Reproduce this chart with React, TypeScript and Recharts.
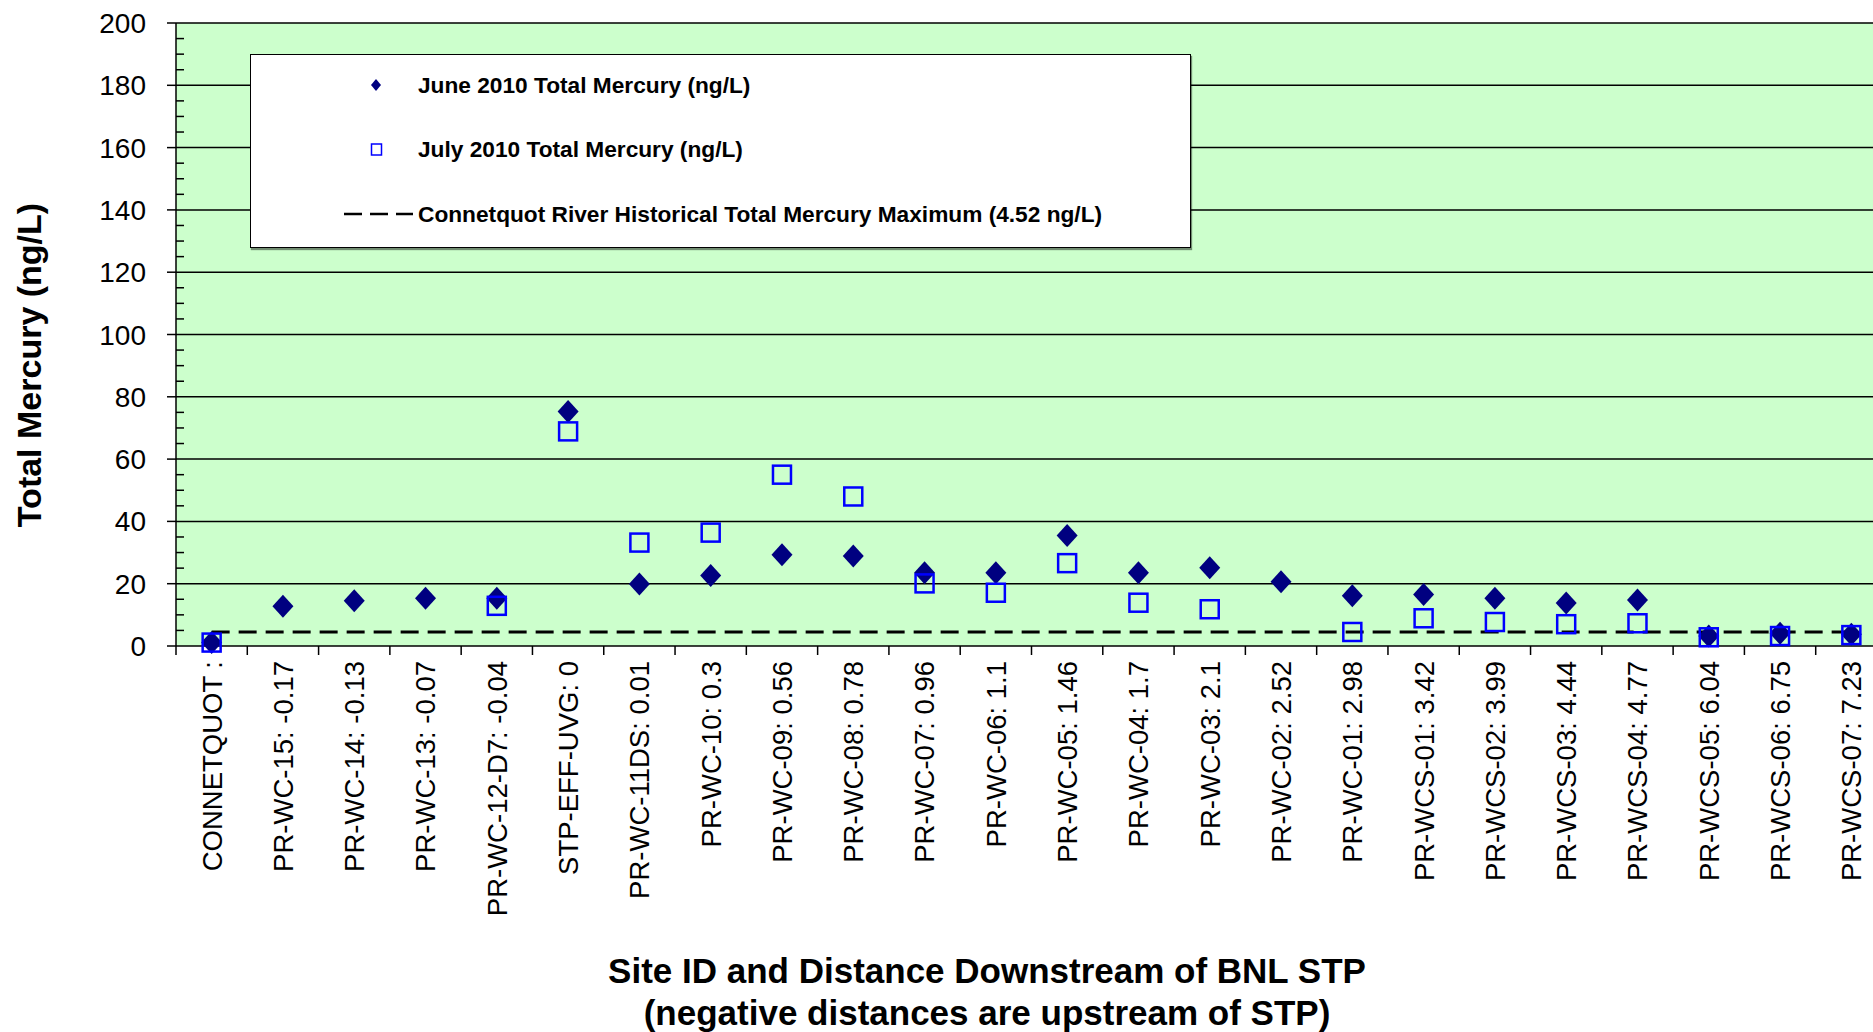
import React from "react";
import { CartesianGrid, ComposedChart, Legend, ReferenceLine, Scatter, XAxis, YAxis } from "recharts";

const SITES = [
  "CONNETQUOT :",
  "PR-WC-15: -0.17",
  "PR-WC-14: -0.13",
  "PR-WC-13: -0.07",
  "PR-WC-12-D7: -0.04",
  "STP-EFF-UVG: 0",
  "PR-WC-11DS: 0.01",
  "PR-WC-10: 0.3",
  "PR-WC-09: 0.56",
  "PR-WC-08: 0.78",
  "PR-WC-07: 0.96",
  "PR-WC-06: 1.1",
  "PR-WC-05: 1.46",
  "PR-WC-04: 1.7",
  "PR-WC-03: 2.1",
  "PR-WC-02: 2.52",
  "PR-WC-01: 2.98",
  "PR-WCS-01: 3.42",
  "PR-WCS-02: 3.99",
  "PR-WCS-03: 4.44",
  "PR-WCS-04: 4.77",
  "PR-WCS-05: 6.04",
  "PR-WCS-06: 6.75",
  "PR-WCS-07: 7.23",
];

// June 2010 total mercury (ng/L)
const JUNE_HG = [1.1, 12.8, 14.5, 15.3, 15.3, 75.3, 19.9, 22.6, 29.3, 28.9, 23.5, 23.5, 35.5, 23.5, 25.1, 20.6, 16.1, 16.5, 15.3, 13.8, 14.8, 3.2, 4.1, 3.8];
// July 2010 total mercury (ng/L), null = not sampled
const JULY_HG = [1.1, null, null, null, 12.9, 68.9, 33.2, 36.4, 55.0, 48.0, 20.1, 17.1, 26.6, 13.9, 11.8, null, 4.5, 8.9, 7.7, 7.0, 7.3, 2.8, 3.2, 3.5];

const HIST_MAX = 4.52;

const Y_TICKS = [0, 5, 10, 15, 20, 25, 30, 35, 40, 45, 50, 55, 60, 65, 70, 75, 80, 85, 90, 95, 100, 105, 110, 115, 120, 125, 130, 135, 140, 145, 150, 155, 160, 165, 170, 175, 180, 185, 190, 195, 200];
const GRID_VALUES = [20, 40, 60, 80, 100, 120, 140, 160, 180, 200];

const FONT = "'Liberation Sans', Arial, Helvetica, sans-serif";
const CHART_W = 1890;
const CHART_H = 1032;
const PLOT_LEFT = 176;
const PLOT_RIGHT = 1887;
const BAND = (PLOT_RIGHT - PLOT_LEFT) / SITES.length;

const rows = SITES.map((site, i) => ({ site, june: JUNE_HG[i], july: JULY_HG[i] }));

function YTick(props: any) {
  const { x, y, payload } = props;
  const v = payload.value;
  if (v % 20 === 0) {
    return (
      <g>
        <line x1={x - 9} x2={x} y1={y} y2={y} stroke="#000" strokeWidth={1.5} />
        <text x={x - 30} y={y} dy="0.36em" textAnchor="end" fontSize={28} fontFamily={FONT} fill="#000">
          {v}
        </text>
      </g>
    );
  }
  return <line x1={x} x2={x + 8} y1={y} y2={y} stroke="#000" strokeWidth={1.5} />;
}

function XTick(props: any) {
  const { x, y, payload, index } = props;
  const half = BAND / 2;
  return (
    <g>
      <line x1={x - half} x2={x - half} y1={y} y2={y + 9} stroke="#000" strokeWidth={1.5} />
      {index === SITES.length - 1 && <line x1={x + half} x2={x + half} y1={y} y2={y + 9} stroke="#000" strokeWidth={1.5} />}
      <text transform={`translate(${x},${y + 15}) rotate(-90)`} textAnchor="end" dy="0.36em" fontSize={27.5} fontFamily={FONT} fill="#000">
        {payload.value}
      </text>
    </g>
  );
}

function Diamond(props: any) {
  const { cx, cy, payload } = props;
  if (payload == null || payload.june == null || cy == null) return <g />;
  return <polygon points={`${cx},${cy - 11.5} ${cx + 10.5},${cy} ${cx},${cy + 11.5} ${cx - 10.5},${cy}`} fill="#000080" />;
}

function Square(props: any) {
  const { cx, cy, payload } = props;
  if (payload == null || payload.july == null || cy == null) return <g />;
  return <rect x={cx - 9} y={cy - 9} width={18} height={18} fill="none" stroke="#0000FF" strokeWidth={2.5} />;
}

function LegendBox() {
  const t = { fontSize: 22.7, fontWeight: "bold" as const, fontFamily: FONT, fill: "#000" };
  return (
    <div
      style={{
        width: 941,
        height: 194,
        boxSizing: "border-box",
        background: "#fff",
        border: "1px solid #000",
        boxShadow: "1px 2px 1px rgba(0,0,0,0.45)",
      }}
    >
      <svg width={939} height={192}>
        <polygon points="125,24 130,30 125,36 120,30" fill="#000080" />
        <text x={167} y={30} dy="0.36em" {...t}>June 2010 Total Mercury (ng/L)</text>
        <rect x={120.5} y={89} width={10} height={11} fill="none" stroke="#0000FF" strokeWidth={1.5} />
        <text x={167} y={94} dy="0.36em" {...t}>July 2010 Total Mercury (ng/L)</text>
        <line x1={93} x2={162} y1={159} y2={159} stroke="#000" strokeWidth={2.5} strokeDasharray="18 8" />
        <text x={167} y={159} dy="0.36em" {...t}>Connetquot River Historical Total Mercury Maximum (4.52 ng/L)</text>
      </svg>
    </div>
  );
}

export default function App() {
  return (
    <div style={{ position: "fixed", left: 0, top: 0, width: 1873, height: 1032, overflow: "hidden", background: "#fff" }}>
      <ComposedChart width={CHART_W} height={CHART_H} data={rows} margin={{ top: 23, right: CHART_W - PLOT_RIGHT, bottom: 0, left: 0 }} style={{ fontFamily: FONT }}>
        <CartesianGrid fill="#CCFFCC" vertical={false} horizontalValues={GRID_VALUES} stroke="#000" strokeWidth={1.5} />
        <XAxis
          dataKey="site"
          type="category"
          interval={0}
          padding={{ left: BAND / 2, right: BAND / 2 }}
          height={CHART_H - 646}
          tick={<XTick />}
          tickLine={false}
          tickSize={0}
          tickMargin={0}
          axisLine={{ stroke: "#000", strokeWidth: 1.5 }}
          label={{
            content: () => (
              <text textAnchor="middle" fontSize={35} fontWeight="bold" fontFamily={FONT} fill="#000">
                <tspan x={987} y={983}>Site ID and Distance Downstream of BNL STP</tspan>
                <tspan x={987} y={1025}>(negative distances are upstream of STP)</tspan>
              </text>
            ),
          }}
        />
        <YAxis
          type="number"
          domain={[0, 200]}
          ticks={Y_TICKS}
          interval={0}
          width={PLOT_LEFT}
          tick={<YTick />}
          tickLine={false}
          tickSize={0}
          tickMargin={0}
          axisLine={{ stroke: "#000", strokeWidth: 1.5 }}
          label={{
            content: () => (
              <text transform="translate(29,365) rotate(-90)" textAnchor="middle" dy="0.36em" fontSize={34} fontWeight="bold" fontFamily={FONT} fill="#000">
                Total Mercury (ng/L)
              </text>
            ),
          }}
        />
        <ReferenceLine
          segment={[
            { x: SITES[0], y: HIST_MAX },
            { x: SITES[SITES.length - 1], y: HIST_MAX },
          ]}
          stroke="#000"
          strokeWidth={3}
          strokeDasharray="18 9"
          ifOverflow="visible"
        />
        <Scatter name="June 2010 Total Mercury (ng/L)" dataKey="june" shape={<Diamond />} isAnimationActive={false} />
        <Scatter name="July 2010 Total Mercury (ng/L)" dataKey="july" shape={<Square />} isAnimationActive={false} />
        <Legend
          layout="horizontal"
          verticalAlign="middle"
          align="center"
          content={() => <LegendBox />}
          wrapperStyle={{ position: "absolute", left: 250, top: 54, width: 941, height: 194 }}
        />
      </ComposedChart>
    </div>
  );
}
